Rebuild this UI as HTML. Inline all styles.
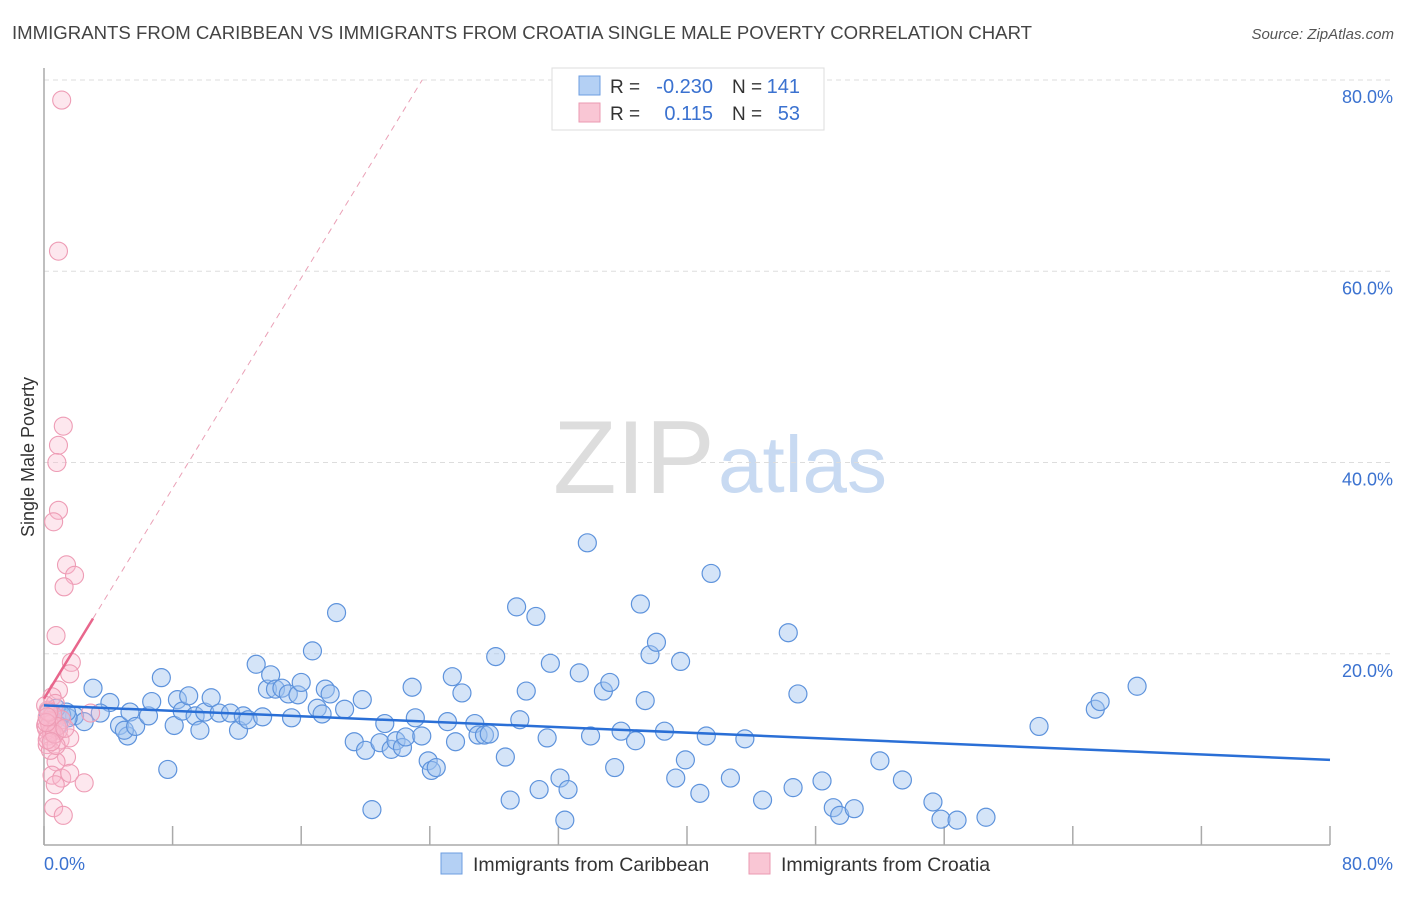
<!DOCTYPE html>
<html><head><meta charset="utf-8"><style>
body{margin:0;background:#fff;font-family:"Liberation Sans",sans-serif}
svg text{font-family:"Liberation Sans",sans-serif}
</style></head><body>
<svg width="1406" height="892">
<text x="12" y="39" font-size="18.6" fill="#444">IMMIGRANTS FROM CARIBBEAN VS IMMIGRANTS FROM CROATIA SINGLE MALE POVERTY CORRELATION CHART</text>
<text x="1394" y="39" font-size="15" fill="#555" text-anchor="end" font-style="italic">Source: ZipAtlas.com</text>
<g>
<text x="553" y="493" font-size="104" fill="#ddd" font-family="Liberation Serif,serif">ZIP</text>
<text x="718" y="492" font-size="80" fill="#c8daf2">atlas</text>
</g>
<g id="grid"></g>
<g id="axes"></g>
<g id="marks"></g>
<text transform="translate(34,457) rotate(-90)" font-size="18" fill="#333" text-anchor="middle">Single Male Poverty</text>
<g>
<rect x="552" y="68" width="272" height="62" fill="#fff" stroke="#ddd"/>
<rect x="579" y="76" width="21" height="19" fill="#b4d0f4" stroke="#6c9ee0"/>
<rect x="579" y="103" width="21" height="19" fill="#f9c6d4" stroke="#eb9ab2"/>
<text x="610" y="93" font-size="19" fill="#333">R =</text>
<text x="713" y="93" font-size="20" fill="#3b72d0" text-anchor="end">-0.230</text>
<text x="732" y="93" font-size="19" fill="#333">N =</text>
<text x="800" y="93" font-size="20" fill="#3b72d0" text-anchor="end">141</text>
<text x="610" y="120" font-size="19" fill="#333">R =</text>
<text x="713" y="120" font-size="20" fill="#3b72d0" text-anchor="end">0.115</text>
<text x="732" y="120" font-size="19" fill="#333">N =</text>
<text x="800" y="120" font-size="20" fill="#3b72d0" text-anchor="end">53</text>
</g>
<g>
<rect x="441" y="853" width="21" height="21" fill="#b4d0f4" stroke="#6c9ee0"/>
<text x="473" y="871" font-size="19.5" fill="#333">Immigrants from Caribbean</text>
<rect x="749" y="853" width="21" height="21" fill="#f9c6d4" stroke="#eb9ab2"/>
<text x="781" y="871" font-size="19.5" fill="#333">Immigrants from Croatia</text>
</g>
</svg>
<script>
const blueX=[3.05,4.1,3.5,1.9,2.5,1.5,1.1,4.7,5.35,5.2,5.0,5.7,6.5,6.7,7.3,7.7,8.1,8.3,8.6,9.0,9.4,9.7,10.0,10.4,10.9,11.6,12.1,12.4,12.7,13.2,13.6,13.9,14.1,14.4,14.8,15.2,15.4,15.8,16.0,16.7,17.0,17.3,17.5,17.8,18.2,18.7,19.3,19.8,20.0,20.4,20.9,21.2,21.6,21.9,22.3,22.5,22.9,23.1,23.5,23.9,24.1,24.4,25.1,25.4,25.6,26.0,26.8,27.0,27.4,27.7,28.1,28.7,29.0,29.4,29.6,30.0,30.6,30.8,31.3,31.5,32.1,32.4,32.6,33.3,33.8,34.0,34.8,35.2,35.5,35.9,36.8,37.1,37.4,37.7,38.1,38.6,39.3,39.6,39.9,40.8,41.2,41.5,42.7,43.6,44.7,46.3,46.6,46.9,48.4,49.1,49.5,50.4,52.0,53.4,55.3,55.8,56.8,58.6,61.9,65.4,65.7,68.0,0.25,0.5,0.75,0.9,1.4];
const blueY=[16.4,14.9,13.8,13.5,12.9,13.3,13.6,12.5,13.9,11.4,12.0,12.4,13.5,15.0,17.5,7.9,12.5,15.2,14.0,15.6,13.5,12.0,13.9,15.4,13.8,13.8,12.0,13.5,13.1,18.9,13.4,16.3,17.8,16.3,16.4,15.8,13.3,15.7,17.0,20.3,14.3,13.7,16.3,15.8,24.3,14.2,10.8,15.2,9.9,3.7,10.7,12.7,10.0,10.9,10.2,11.3,16.5,13.3,11.4,8.8,7.8,8.1,12.9,17.6,10.8,15.9,12.7,11.5,11.5,11.6,19.7,9.2,4.7,24.9,13.1,16.1,23.9,5.8,11.2,19.0,7.0,2.6,5.8,18.0,31.6,11.4,16.1,17.0,8.1,11.9,10.9,25.2,15.1,19.9,21.2,11.9,7.0,19.2,8.9,5.4,11.4,28.4,7.0,11.1,4.7,22.2,6.0,15.8,6.7,3.9,3.1,3.8,8.8,6.8,4.5,2.7,2.6,2.9,12.4,14.2,15.0,16.6,13.9,13.1,14.3,12.5,13.9];
const pinkX=[1.1,0.9,1.2,0.9,0.8,0.9,0.6,1.4,1.9,1.25,0.75,1.7,1.6,0.9,0.5,0.7,2.9,1.0,1.6,1.4,0.75,0.5,1.1,1.6,0.7,2.5,0.6,1.2,0.25,0.4,0.1,0.5,0.25,0.6,0.2,0.4,0.9,1.1,0.1,0.75,0.3,0.15,0.45,0.35,0.55,0.2,0.8,0.3,0.65,0.15,0.45,1.3,0.2];
const pinkY=[77.9,62.1,43.8,41.8,40.0,35.0,33.8,29.3,28.2,27.0,21.9,19.1,17.9,16.2,15.5,14.8,13.8,11.0,11.2,9.2,8.7,7.3,7.0,7.5,6.3,6.5,3.9,3.1,14.1,13.3,12.5,12.0,11.4,12.9,10.5,9.9,12.0,13.1,14.6,10.4,13.0,12.2,11.8,12.6,13.6,11.0,12.4,13.9,11.6,12.8,10.8,12.2,13.4];
const xTicks=[0,8,16,24,32,40,48,56,64,72,80];
const yGrid=[20,40,60,80];
const yLabels=["20.0%","40.0%","60.0%","80.0%"];
const blueTrend=[14.6,8.9];
const pinkTrend=[15.3,2.75];
const NS="http://www.w3.org/2000/svg";
const X=v=>44+v*16.075, Y=v=>845-v*9.5625;
function mk(p,t,a){const e=document.createElementNS(NS,t);for(const k in a)e.setAttribute(k,a[k]);p.appendChild(e);return e;}
const grid=document.getElementById('grid'),axes=document.getElementById('axes'),marks=document.getElementById('marks');
yGrid.forEach((v,i)=>{
 const l=mk(grid,'line',{x1:44,x2:1394,y1:Y(v),y2:Y(v),stroke:'#ddd','stroke-dasharray':'5,4'});
 
 
 const t=mk(grid,'text',{x:1393,y:Y(v)+23,'font-size':18,fill:'#3b72d0','text-anchor':'end'});t.textContent=yLabels[i];
 
 
});
let a=mk(axes,'line',{x1:44,x2:44,y1:68,y2:845,stroke:'#aaa','stroke-width':1.5});


a=mk(axes,'line',{x1:44,x2:1330,y1:845,y2:845,stroke:'#aaa','stroke-width':1.5});


xTicks.forEach(v=>{const t=mk(axes,'line',{x1:X(v),x2:X(v),y1:826,y2:845,stroke:'#aaa','stroke-width':1.5});
 
 });
let t=mk(axes,'text',{x:44,y:870,'font-size':18,fill:'#3b72d0'});t.textContent='0.0%';


t=mk(axes,'text',{x:1393,y:870,'font-size':18,fill:'#3b72d0','text-anchor':'end'});t.textContent='80.0%';


blueX.forEach((v,i)=>{const c=mk(marks,'circle',{cx:X(v),cy:Y(blueY[i]),r:9,fill:'rgba(160,196,240,0.45)',stroke:'#5e93dc','stroke-width':1.2});
 
 });
pinkX.forEach((v,i)=>{const c=mk(marks,'circle',{cx:X(v),cy:Y(pinkY[i]),r:9,fill:'rgba(248,186,206,0.35)',stroke:'#ee9cb5','stroke-width':1.1});
 
 });
let l=mk(marks,'line',{x1:X(0),y1:Y(blueTrend[0]),x2:X(80),y2:Y(blueTrend[1]),stroke:'#2a6fd6','stroke-width':2.5});


const pend=(80-pinkTrend[0])/pinkTrend[1];
l=mk(marks,'line',{x1:X(3.05),y1:Y(pinkTrend[0]+pinkTrend[1]*3.05),x2:X(pend),y2:Y(80),stroke:'#eaa0b6','stroke-width':1,'stroke-dasharray':'6,5'});


l=mk(marks,'line',{x1:X(0),y1:Y(pinkTrend[0]),x2:X(3.05),y2:Y(pinkTrend[0]+pinkTrend[1]*3.05),stroke:'#e8668c','stroke-width':2.5});


</script>
</body></html>
